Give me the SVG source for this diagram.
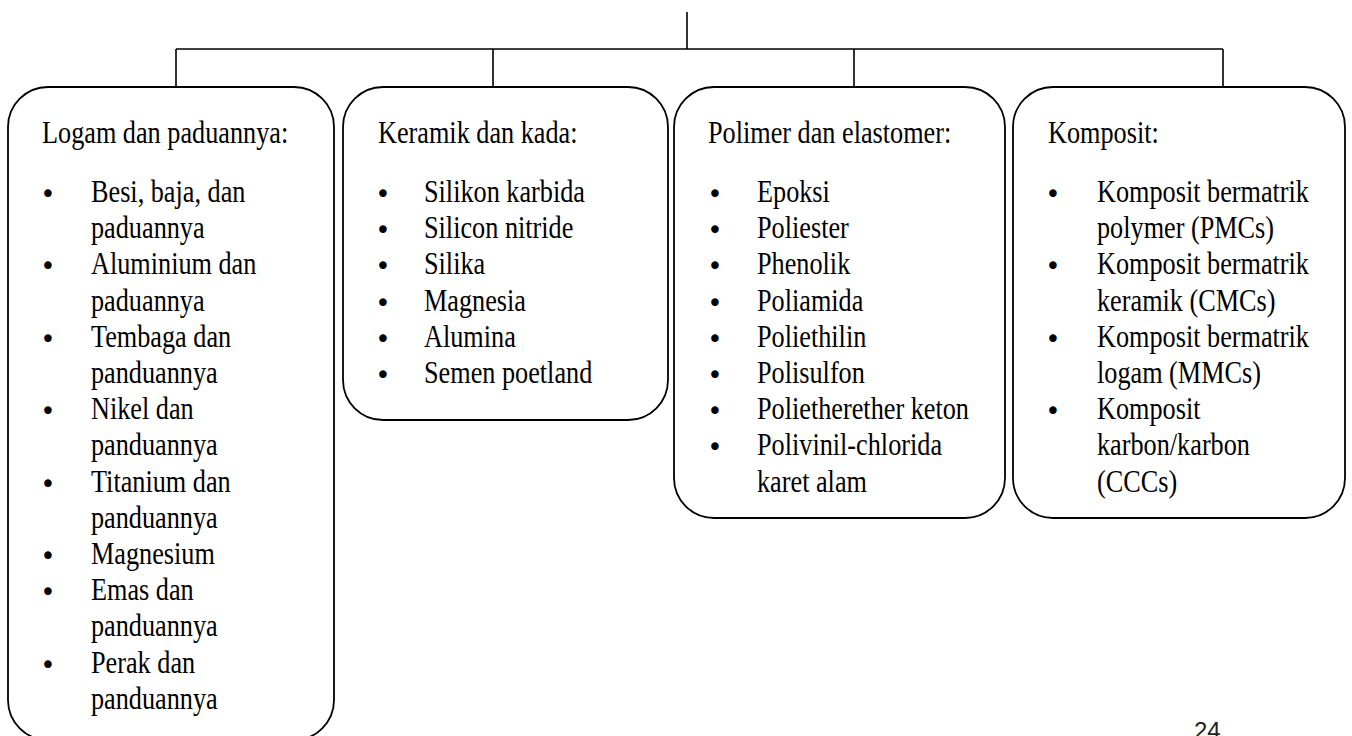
<svg xmlns="http://www.w3.org/2000/svg" width="1352" height="736" viewBox="0 0 1352 736">
<style>
.box{fill:#fff;stroke:#000;stroke-width:1.8}
.con{fill:none;stroke:#000;stroke-width:1.6}
.t{font-family:"Liberation Serif","Times New Roman",serif;font-size:32px;fill:#000}
.b{font-family:"DejaVu Sans",sans-serif;font-size:26px;fill:#000;text-anchor:middle}
.pg{font-family:"Liberation Sans",Arial,sans-serif;font-size:24px;fill:#222}
</style>
<rect width="1352" height="736" fill="#fff"/>
<g id="connectors">
<path class="con" d="M687 12V49M176 49H1223M176 49V87M493 49V87M854 49V87M1223 49V87"/>
</g>
<g id="logam">
<rect class="box" x="8" y="87" width="326" height="653" rx="40"/>
<text class="t" transform="translate(42 143) scale(0.82 1)">Logam dan paduannya:</text>
<text class="t" transform="translate(91 0) scale(0.82 1)"><tspan x="0" y="202">Besi, baja, dan</tspan><tspan x="0" y="238.2">paduannya</tspan><tspan x="0" y="274.4">Aluminium dan</tspan><tspan x="0" y="310.6">paduannya</tspan><tspan x="0" y="346.8">Tembaga dan</tspan><tspan x="0" y="383">panduannya</tspan><tspan x="0" y="419.2">Nikel dan</tspan><tspan x="0" y="455.4">panduannya</tspan><tspan x="0" y="491.6">Titanium dan</tspan><tspan x="0" y="527.8">panduannya</tspan><tspan x="0" y="564">Magnesium</tspan><tspan x="0" y="600.2">Emas dan</tspan><tspan x="0" y="636.4">panduannya</tspan><tspan x="0" y="672.6">Perak dan</tspan><tspan x="0" y="708.8">panduannya</tspan></text>
<text class="b"><tspan x="48" y="203">•</tspan><tspan x="48" y="275.4">•</tspan><tspan x="48" y="347.8">•</tspan><tspan x="48" y="420.2">•</tspan><tspan x="48" y="492.6">•</tspan><tspan x="48" y="565">•</tspan><tspan x="48" y="601.2">•</tspan><tspan x="48" y="673.6">•</tspan></text>
</g>
<g id="keramik">
<rect class="box" x="343" y="87" width="325" height="333" rx="40"/>
<text class="t" transform="translate(378 143) scale(0.82 1)">Keramik dan kada:</text>
<text class="t" transform="translate(424 0) scale(0.82 1)"><tspan x="0" y="202">Silikon karbida</tspan><tspan x="0" y="238.2">Silicon nitride</tspan><tspan x="0" y="274.4">Silika</tspan><tspan x="0" y="310.6">Magnesia</tspan><tspan x="0" y="346.8">Alumina</tspan><tspan x="0" y="383">Semen poetland</tspan></text>
<text class="b"><tspan x="383" y="203">•</tspan><tspan x="383" y="239.2">•</tspan><tspan x="383" y="275.4">•</tspan><tspan x="383" y="311.6">•</tspan><tspan x="383" y="347.8">•</tspan><tspan x="383" y="384">•</tspan></text>
</g>
<g id="polimer">
<rect class="box" x="674" y="87" width="331" height="431" rx="40"/>
<text class="t" transform="translate(708 143) scale(0.82 1)">Polimer dan elastomer:</text>
<text class="t" transform="translate(757 0) scale(0.82 1)"><tspan x="0" y="202">Epoksi</tspan><tspan x="0" y="238.2">Poliester</tspan><tspan x="0" y="274.4">Phenolik</tspan><tspan x="0" y="310.6">Poliamida</tspan><tspan x="0" y="346.8">Poliethilin</tspan><tspan x="0" y="383">Polisulfon</tspan><tspan x="0" y="419.2">Polietherether keton</tspan><tspan x="0" y="455.4">Polivinil-chlorida</tspan><tspan x="0" y="491.6">karet alam</tspan></text>
<text class="b"><tspan x="715" y="203">•</tspan><tspan x="715" y="239.2">•</tspan><tspan x="715" y="275.4">•</tspan><tspan x="715" y="311.6">•</tspan><tspan x="715" y="347.8">•</tspan><tspan x="715" y="384">•</tspan><tspan x="715" y="420.2">•</tspan><tspan x="715" y="456.4">•</tspan></text>
</g>
<g id="komposit">
<rect class="box" x="1013" y="87" width="332" height="431" rx="40"/>
<text class="t" transform="translate(1048 143) scale(0.82 1)">Komposit:</text>
<text class="t" transform="translate(1097 0) scale(0.82 1)"><tspan x="0" y="202">Komposit bermatrik</tspan><tspan x="0" y="238.2">polymer (PMCs)</tspan><tspan x="0" y="274.4">Komposit bermatrik</tspan><tspan x="0" y="310.6">keramik (CMCs)</tspan><tspan x="0" y="346.8">Komposit bermatrik</tspan><tspan x="0" y="383">logam (MMCs)</tspan><tspan x="0" y="419.2">Komposit</tspan><tspan x="0" y="455.4">karbon/karbon</tspan><tspan x="0" y="491.6">(CCCs)</tspan></text>
<text class="b"><tspan x="1053" y="203">•</tspan><tspan x="1053" y="275.4">•</tspan><tspan x="1053" y="347.8">•</tspan><tspan x="1053" y="420.2">•</tspan></text>
</g>
<g id="page-number">
<text class="pg" x="1194" y="739">24</text>
</g>
</svg>
